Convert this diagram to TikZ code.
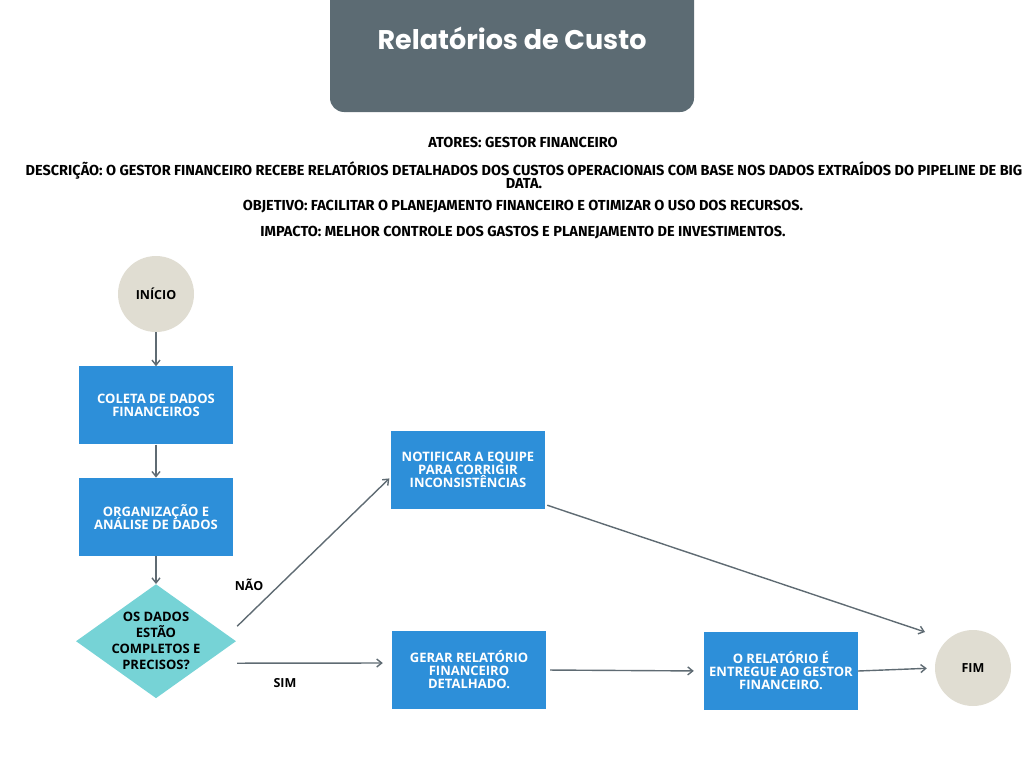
\documentclass[tikz,border=0pt]{standalone}
\usepackage{fontspec}
\setmainfont{Open Sans}
\newfontfamily\titlefont{Poppins}
\newfontfamily\infofont{Fira Sans}
\usetikzlibrary{shapes.geometric,arrows.meta,positioning}
\definecolor{rccolor1}{RGB}{92,107,115}
\definecolor{rccolor2}{RGB}{45,143,217}
\definecolor{rccolor3}{RGB}{118,211,214}
\definecolor{rccolor4}{RGB}{224,221,210}
\definecolor{rccolor5}{RGB}{95,107,115}
\newcommand{\tightlines}{\lineskiplimit=-20pt\lineskip=0pt}
\tikzstyle{stepbox} = [rectangle, text centered, align=center, fill=rccolor2, text=white, minimum width=154pt, minimum height=78pt, font=\fontsize{13}{13}\selectfont\bfseries\tightlines]
\tikzstyle{terminal} = [circle, fill=rccolor4, minimum size=76pt, font=\fontsize{12.5}{13}\selectfont\bfseries]
\tikzstyle{decision} = [diamond, fill=rccolor3, minimum width=160pt, minimum height=114pt, inner sep=0pt]
\tikzstyle{infoline} = [align=center, font=\infofont\bfseries\fontsize{14.5}{12.5}\selectfont\tightlines]
\tikzstyle{choice} = [font=\fontsize{12.5}{13}\selectfont\bfseries]
\tikzstyle{arrow} = [line width=1.4pt, draw=rccolor5, -{Straight Barb[length=5pt,width=8pt]}]

\begin{document}
\begin{tikzpicture}[x=1pt, y=-1pt, node distance=34pt]
\useasboundingbox (0,0) rectangle (1024,768);

\node (titlebox) [rectangle, rounded corners=14pt, fill=rccolor1, minimum width=364pt, minimum height=132pt] at (512,46) {};
\node (title) [text=white, font=\titlefont\bfseries\fontsize{27}{30}\selectfont] at (512,38) {Relatórios de Custo};

\node (actors) [infoline] at (523,142) {ATORES: GESTOR FINANCEIRO};
\node (descr) [infoline] at (524,175) {DESCRIÇÃO: O GESTOR FINANCEIRO RECEBE RELATÓRIOS DETALHADOS DOS CUSTOS OPERACIONAIS COM BASE NOS DADOS EXTRAÍDOS DO PIPELINE DE BIG\\DATA.};
\node (goal) [infoline] at (523,207) {OBJETIVO: FACILITAR O PLANEJAMENTO FINANCEIRO E OTIMIZAR O USO DOS RECURSOS.};
\node (impact) [infoline] at (523,233) {IMPACTO: MELHOR CONTROLE DOS GASTOS E PLANEJAMENTO DE INVESTIMENTOS.};

\node (start) [terminal] at (156,294) {INÍCIO};
\node (collect) [stepbox, below=34pt of start] {COLETA DE DADOS\\FINANCEIROS};
\node (organize) [stepbox, below=33pt of collect] {ORGANIZAÇÃO E\\ANÁLISE DE DADOS};
\node (check) [decision, below=28pt of organize, label={[align=center, font=\fontsize{13}{16}\selectfont\bfseries\tightlines]center:OS DADOS\\ESTÃO\\COMPLETOS E\\PRECISOS?}] {};

\node (notify) [stepbox] at (468,470) {NOTIFICAR A EQUIPE\\PARA CORRIGIR\\INCONSISTÊNCIAS};
\node (report) [stepbox] at (469,670) {GERAR RELATÓRIO\\FINANCEIRO\\DETALHADO.};
\node (deliver) [stepbox] at (781,671) {O RELATÓRIO É\\ENTREGUE AO GESTOR\\FINANCEIRO.};
\node (stop) [terminal] at (973,668) {FIM};

\node (no) [choice] at (249,585) {NÃO};
\node (yes) [choice] at (285,683) {SIM};

\draw [arrow] (start) -- (collect);
\draw [arrow] (collect) -- (organize);
\draw [arrow] (organize) -- (check);
\draw [arrow, shorten >=2pt] ([xshift=1pt,yshift=15pt]check.east) -- ([yshift=-7pt]notify.west);
\draw [arrow, shorten >=9pt] ([xshift=1pt,yshift=-22pt]check.east) -- ([yshift=7pt]report.west);
\draw [arrow, shorten <=4pt, shorten >=10pt] (report.east) -- (deliver.west);
\draw [arrow, shorten >=8pt] (deliver.east) -- (stop.west);
\draw [arrow] ([xshift=2pt,yshift=4pt]notify.south east) -- ([xshift=-48pt,yshift=36pt]stop.center);

\end{tikzpicture}
\end{document}
